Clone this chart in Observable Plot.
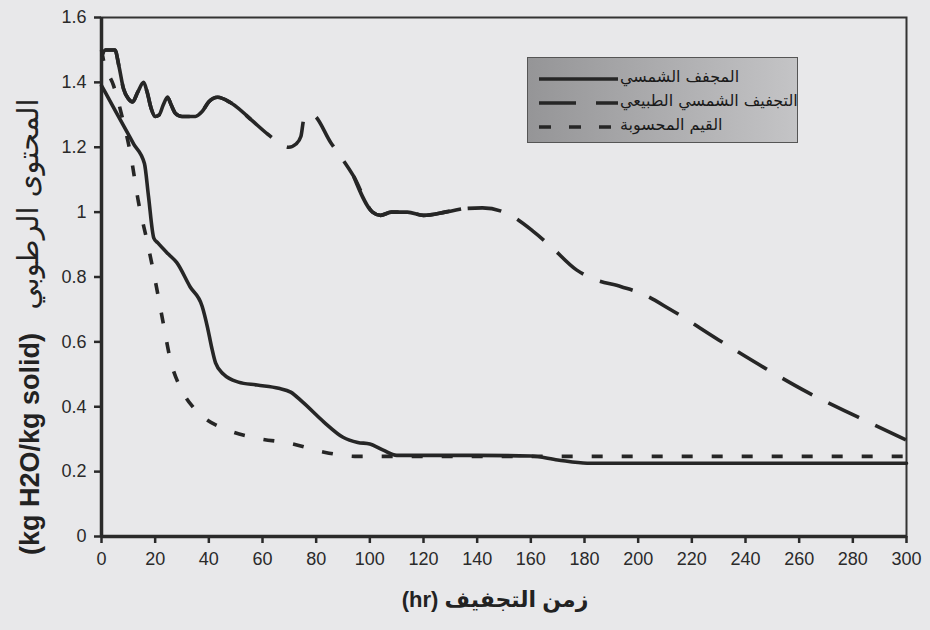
<!DOCTYPE html>
<html>
<head>
<meta charset="utf-8">
<script src="https://cdn.jsdelivr.net/npm/d3@7"></script>
<script src="https://cdn.jsdelivr.net/npm/@observablehq/plot@0.6"></script>
<style>
  html, body { margin: 0; padding: 0; background: #e8e8ea; }
  #wrap { position: relative; width: 930px; height: 630px; font-family: "Liberation Sans", "DejaVu Sans", sans-serif; }
  #legend { position: absolute; left: 527px; top: 57px; width: 269px; height: 84px;
            border: 1px solid #555; background: linear-gradient(to right, #959597, #c4c4c6); }
  #legend svg { position: absolute; left: 0; top: 0; }
  .lg { position: absolute; left: 92px; font-size: 16px; color: #1a1a1a; white-space: nowrap;
        font-family: "DejaVu Sans", sans-serif; line-height: 1; }
</style>
</head>
<body>
<div id="wrap"></div>
<script>
// ---- data ----
const seriesNames = ["المجفف الشمسي", "التجفيف الشمسي الطبيعي", "القيم المحسوبة"];

const solarT = [0, 4, 8, 12, 16, 17.5, 19.5, 21, 25, 28, 33, 37.5, 39.5, 41, 42.5, 45.5, 51, 58, 66, 70.5, 75, 83, 90, 95.5, 100, 105, 110, 120, 140, 160, 170, 181, 200, 250, 300];
const solarV = [1.39, 1.33, 1.27, 1.21, 1.15, 1.05, 0.92, 0.905, 0.87, 0.845, 0.77, 0.71, 0.645, 0.585, 0.535, 0.50, 0.476, 0.467, 0.457, 0.445, 0.414, 0.352, 0.306, 0.29, 0.285, 0.266, 0.25, 0.25, 0.25, 0.248, 0.236, 0.226, 0.226, 0.226, 0.226];

const naturalT = [0, 1.5, 5, 6.5, 8.2, 10, 11.6, 13.5, 15.7, 17, 18.5, 20, 21.5, 23, 24.6, 26, 27.5, 30, 35, 37.5, 40, 43.3, 48, 55.6, 62, 66, 69.8, 72.5, 74.3, 75.4, 77, 78.5, 85.4, 94, 101, 104, 108, 114, 120, 128, 134, 142, 150, 161, 167.5, 177, 182.5, 193.7, 201, 212, 230, 248.5, 263, 282, 300];
const naturalV = [1.48, 1.50, 1.50, 1.45, 1.38, 1.35, 1.34, 1.37, 1.40, 1.37, 1.32, 1.295, 1.30, 1.33, 1.354, 1.33, 1.305, 1.295, 1.295, 1.31, 1.34, 1.354, 1.338, 1.286, 1.24, 1.215, 1.20, 1.21, 1.233, 1.286, 1.30, 1.30, 1.215, 1.11, 1.0, 0.99, 1.0, 1.0, 0.99, 1.0, 1.01, 1.013, 1.0, 0.94, 0.894, 0.822, 0.797, 0.77, 0.75, 0.70, 0.606, 0.513, 0.445, 0.368, 0.297];

const calcT = [0, 0.7, 4.5, 7.8, 10.8, 13.8, 17, 20, 22.8, 25.7, 30, 34, 38, 47, 58, 70.5, 83, 95.5, 110, 150, 200, 300];
const calcV = [1.50, 1.47, 1.39, 1.29, 1.18, 1.03, 0.91, 0.79, 0.667, 0.544, 0.45, 0.40, 0.368, 0.328, 0.303, 0.287, 0.26, 0.247, 0.247, 0.247, 0.247, 0.247];

const xTicks = [0, 20, 40, 60, 80, 100, 120, 140, 160, 180, 200, 220, 240, 260, 280, 300];
const yTicks = [0, 0.2, 0.4, 0.6, 0.8, 1, 1.2, 1.4, 1.6];
const xLabel = "(hr) زمن التجفيف";
const yLabelUnit = "(kg H2O/kg solid)";
const yLabelName = "المحتوى الرطوبي";

// ---- build tables ----
const zip = (T, V) => T.map((t, i) => ({t, v: V[i]}));
const solar = zip(solarT, solarV);
const natural = zip(naturalT, naturalV);
const calc = zip(calcT, calcV);

const ink = "#262626";
const lw = 3.6;
const longDash = "34,18";
const shortDash = "11,19";

const chart = Plot.plot({
  width: 930,
  height: 630,
  marginLeft: 101,
  marginRight: 24,
  marginTop: 17,
  marginBottom: 94,
  style: {background: "transparent", fontFamily: "'Liberation Sans', 'DejaVu Sans', sans-serif", fontSize: "18px", color: "#2a2a2a", overflow: "visible"},
  x: {domain: [0, 300]},
  y: {domain: [0, 1.6]},
  marks: [
    Plot.frame({stroke: "#333", strokeWidth: 2}),
    Plot.axisY({ticks: yTicks, tickSize: 7, tickPadding: 8, tickFormat: d3.format("~g"), label: null, strokeWidth: 2.5, fontSize: 18}),
    Plot.axisX({ticks: xTicks, tickSize: 7, tickPadding: 9, label: null, strokeWidth: 2.5, fontSize: 18}),
    Plot.ruleX([0], {stroke: "#2a2a2a", strokeWidth: 3.5}),
    Plot.ruleY([0], {stroke: "#2a2a2a", strokeWidth: 3.5}),
    // calculated values (short dash)
    Plot.line(calc, {x: "t", y: "v", stroke: ink, strokeWidth: lw, strokeDasharray: shortDash, strokeLinecap: "butt", curve: "monotone-x"}),
    // natural sun drying (long dash; dense early / mid parts drawn unbroken as in the source)
    Plot.line(natural, {x: "t", y: "v", stroke: ink, strokeWidth: lw, strokeDasharray: longDash, strokeLinecap: "butt", curve: "monotone-x"}),
    Plot.line(natural, {filter: d => d.t <= 56, x: "t", y: "v", stroke: ink, strokeWidth: lw, strokeLinecap: "butt", curve: "monotone-x"}),
    Plot.line(natural, {filter: d => d.t >= 94 && d.t <= 134, x: "t", y: "v", stroke: ink, strokeWidth: lw, strokeLinecap: "butt", curve: "monotone-x"}),
    // solar dryer (solid)
    Plot.line(solar, {x: "t", y: "v", stroke: ink, strokeWidth: lw, curve: "monotone-x"}),
    // axis titles
    Plot.text([yLabelUnit], {text: d => d, frameAnchor: "left", textAnchor: "middle", lineAnchor: "middle", rotate: -90, dx: -71, dy: 167, fontSize: 27, fontWeight: "bold", fill: "#222"}),
    Plot.text([yLabelName], {text: d => d, frameAnchor: "left", textAnchor: "middle", lineAnchor: "middle", rotate: -90, dx: -73, dy: -73, fontSize: 29, fontFamily: "'DejaVu Sans', sans-serif", fill: "#222"}),
    Plot.text([xLabel], {text: d => d, frameAnchor: "bottom", dx: -9, dy: 70, fontSize: 22, fontWeight: "bold", fill: "#222"})
  ]
});

const wrap = document.getElementById("wrap");
wrap.appendChild(chart);

// ---- legend (inside plot area, top right) ----
const legend = document.createElement("div");
legend.id = "legend";
const dashes = [null, "37,20", "12,18"];
const rowsY = [21, 45, 69];
let svg = `<svg width="269" height="84">`;
seriesNames.forEach((n, i) => {
  svg += `<line x1="11" x2="90" y1="${rowsY[i]}" y2="${rowsY[i]}" stroke="${ink}" stroke-width="3.6"${dashes[i] ? ` stroke-dasharray="${dashes[i]}"` : ""}/>`;
});
svg += `</svg>`;
legend.innerHTML = svg;
seriesNames.forEach((n, i) => {
  const s = document.createElement("span");
  s.className = "lg";
  s.dir = "rtl";
  s.textContent = n;
  s.style.top = (rowsY[i] - 10) + "px";
  legend.appendChild(s);
});
wrap.appendChild(legend);
</script>
</body>
</html>
